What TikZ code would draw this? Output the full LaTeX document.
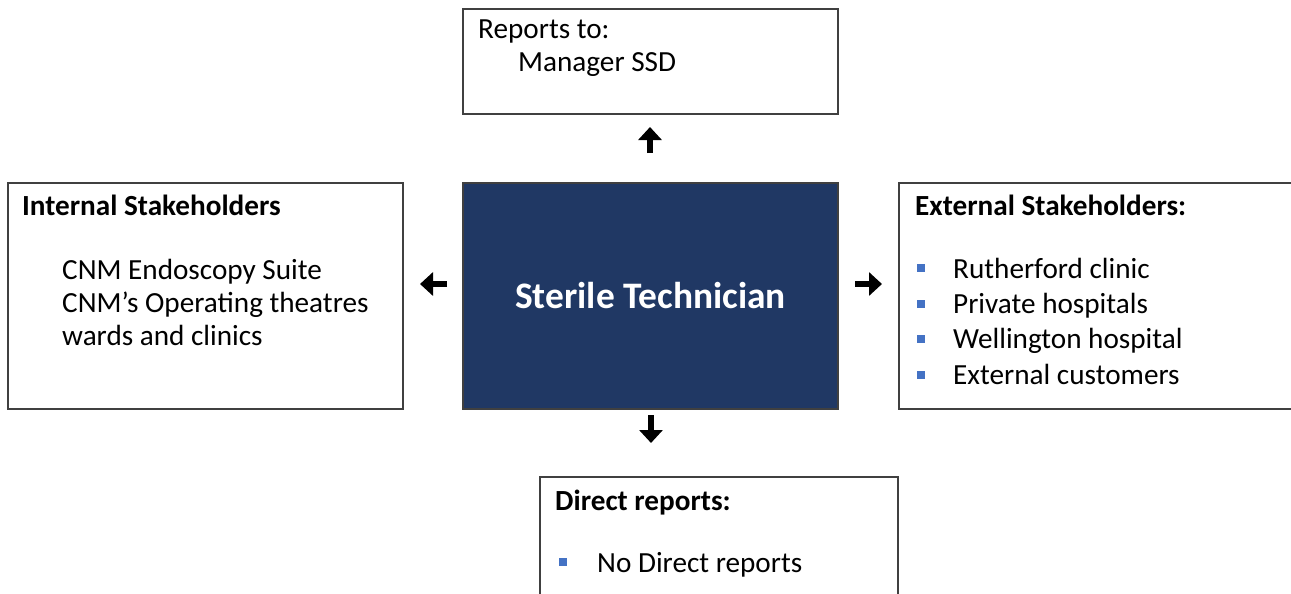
\documentclass[tikz,border=0pt]{standalone}
\usepackage{fontspec}
\setmainfont{Carlito}
\usetikzlibrary{arrows.meta}
\definecolor{rolenavy}{HTML}{203864}
\definecolor{framegray}{HTML}{404040}
\definecolor{bulletblue}{HTML}{4472C4}
\begin{document}
\begin{tikzpicture}[x=1pt,y=-1pt,
  frame/.style={draw=framegray, line width=1.3pt, fill=white, inner sep=0pt},
  txt/.style={anchor=base west, inner sep=0pt, font=\fontsize{29.2}{35}\selectfont},
  headtxt/.style={anchor=base west, inner sep=0pt, font=\fontsize{29.2}{35}\selectfont\bfseries},
  sq/.style={fill=bulletblue, minimum size=7.5pt, inner sep=0pt},
  pointer/.style={line width=5.5pt, -{Triangle[length=13pt,width=23pt]}}]
\clip (0,0) rectangle (1291,594);
\fill[white] (0,0) rectangle (1291,594);

% boxes
\node[frame, minimum width=375pt, minimum height=105pt] (boss) at (650.5,61.5) {};
\node[draw=framegray, line width=1.3pt, fill=rolenavy, minimum width=375pt, minimum height=226pt, inner sep=0pt]
  (role) at (650.5,296) {};
\node[frame, minimum width=395pt, minimum height=226pt] (intl) at (205.5,296) {};
\node[frame, minimum width=396pt, minimum height=226pt] (extl) at (1097,296) {};
\node[frame, minimum width=358pt, minimum height=143pt] (staff) at (719,548.5) {};

% central title
\node[text=white, font=\fontsize{37.4}{44}\selectfont\bfseries] (title) at (role.center) {Sterile Technician};

% reports to
\node[txt] (rt) at (478,38.5) {Reports to:};
\node[txt] (mgr) at (518,72) {Manager SSD};

% internal stakeholders
\node[headtxt] (ih) at (22,215) {Internal Stakeholders};
\node[txt] (i1) at (62,279) {CNM Endoscopy Suite};
\node[txt] (i2) at (62,312) {CNM’s Operating theatres};
\node[txt] (i3) at (62,345) {wards and clinics};

% external stakeholders
\node[headtxt] (eh) at (915,215) {External Stakeholders:};
\node[sq] (b1) at (921,268) {};
\node[sq] (b2) at (921,304) {};
\node[sq] (b3) at (921,339) {};
\node[sq] (b4) at (921,375) {};
\node[txt] (e1) at (953,278) {Rutherford clinic};
\node[txt] (e2) at (953,313) {Private hospitals};
\node[txt] (e3) at (953,348) {Wellington hospital};
\node[txt] (e4) at (953,384) {External customers};

% direct reports
\node[headtxt] (dh) at (555,510) {Direct reports:};
\node[sq] (b5) at (563,562) {};
\node[txt] (d1) at (597,572) {No Direct reports};

% arrows
\coordinate (upA) at (650,153);  \coordinate (upB) at (650,127);
\coordinate (lfA) at (447,284);  \coordinate (lfB) at (420,284);
\coordinate (rtA) at (855,284);  \coordinate (rtB) at (882,284);
\coordinate (dnA) at (651,415);  \coordinate (dnB) at (651,443);
\draw[pointer] (upA) -- (upB);
\draw[pointer] (lfA) -- (lfB);
\draw[pointer] (rtA) -- (rtB);
\draw[pointer] (dnA) -- (dnB);
\end{tikzpicture}
\end{document}
